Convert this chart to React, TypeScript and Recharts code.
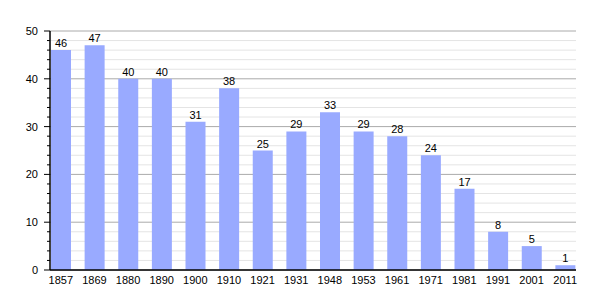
import { BarChart, Bar, XAxis, YAxis, CartesianGrid, LabelList } from 'recharts';

const years = ['1857', '1869', '1880', '1890', '1900', '1910', '1921', '1931', '1948', '1953', '1961', '1971', '1981', '1991', '2001', '2011'];
const population = [46, 47, 40, 40, 31, 38, 25, 29, 33, 29, 28, 24, 17, 8, 5, 1];
const majorTicks = [0, 10, 20, 30, 40, 50];
const allTicks = [0, 2, 4, 6, 8, 10, 12, 14, 16, 18, 20, 22, 24, 26, 28, 30, 32, 34, 36, 38, 40, 42, 44, 46, 48, 50];

const data = years.map((year, i) => ({ year, value: population[i] }));
const minorLines = allTicks.filter((t) => t % 10 !== 0);

const FONT = 'Liberation Sans, Arial, sans-serif';

// draws both the long major ticks with labels and the short minor ticks
function YTick(props: any) {
  const { x, y, payload } = props;
  const major = payload.value % 10 === 0;
  return (
    <g>
      <line x1={x - (major ? 6 : 3)} x2={x} y1={y} y2={y} stroke="#000" strokeWidth={1} />
      {major && (
        <text x={x - 12} y={y} dy={4} textAnchor="end" fontSize={11} fill="#000" fontFamily={FONT}>
          {payload.value}
        </text>
      )}
    </g>
  );
}

export default function App() {
  return (
    <div style={{ position: 'fixed', left: 0, top: 0, width: 605, height: 300, background: '#fff' }}>
      <BarChart width={605} height={300} data={data} margin={{ top: 31, right: 29, bottom: 10, left: 0 }}>
        <CartesianGrid vertical={false} stroke="#e4e4e4" horizontalValues={minorLines} />
        <CartesianGrid vertical={false} stroke="#aaaaaa" horizontalValues={majorTicks} />
        <XAxis
          dataKey="year"
          axisLine={{ stroke: '#000', strokeWidth: 1.5 }}
          tickLine={false}
          interval={0}
          height={20}
          padding={{ left: -6, right: -6 }}
          tick={{ fontSize: 11, fill: '#000', fontFamily: FONT }}
          tickMargin={0}
        />
        <YAxis
          domain={[0, 50]}
          ticks={allTicks}
          interval={0}
          width={50}
          tickSize={0}
          tickMargin={0}
          tickLine={false}
          axisLine={{ stroke: '#000', strokeWidth: 1.5 }}
          tick={<YTick />}
        />
        <Bar dataKey="value" fill="#99aaff" barSize={20} isAnimationActive={false}>
          <LabelList dataKey="value" position="top" offset={3} fontSize={11} fill="#000" fontFamily={FONT} />
        </Bar>
      </BarChart>
    </div>
  );
}
